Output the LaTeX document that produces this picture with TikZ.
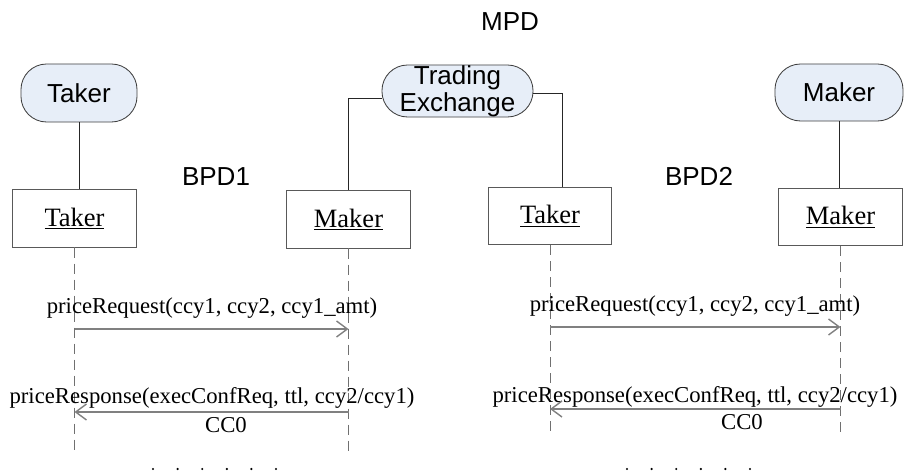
\documentclass[tikz,border=0pt]{standalone}
\usepackage{fontspec}
\setmainfont{Liberation Serif}
\setsansfont{Liberation Sans}
\usepackage{tikz}
\usetikzlibrary{arrows.meta}

\definecolor{pillblue}{RGB}{231,238,248}
\definecolor{linegray}{RGB}{112,112,112}

\begin{document}
\begin{tikzpicture}[x=0.025cm, y=-0.025cm,
    >={Straight Barb[length=0.27cm, width=0.4cm]},
    actor/.style={draw=black!75, fill=pillblue, rounded corners=0.64cm,
        inner sep=0pt, align=center, line width=0.6pt,
        font=\sffamily\fontsize{18.5}{19.2}\selectfont},
    obj/.style={draw=black!65, minimum width=3.075cm, minimum height=1.425cm,
        line width=0.7pt, font=\fontsize{18.85}{22}\selectfont},
    lbl/.style={font=\sffamily\fontsize{18.5}{22}\selectfont},
    msg/.style={anchor=base, font=\fontsize{16.15}{19}\selectfont},
    link/.style={draw=black!85, line width=0.7pt},
    lifeline/.style={draw=linegray, line width=0.7pt,
        dash pattern=on 0.25cm off 0.15cm},
    call/.style={->, draw=gray, line width=1pt}]

    \useasboundingbox (0,0) rectangle (904,472);

    % Titulos
    \node[lbl] (mpd)  at (510,22)  {MPD};
    \node[lbl] (bpd1) at (216,177) {BPD1};
    \node[lbl] (bpd2) at (699,176) {BPD2};

    % Actores
    \node[actor, minimum width=2.9cm, minimum height=1.45cm]
        (takerA) at (79,93) {Taker};
    \node[actor, minimum width=3.775cm, minimum height=1.3cm]
        (exch) at (457.5,91) {Trading\\Exchange};
    \node[actor, minimum width=3.2cm, minimum height=1.425cm]
        (makerA) at (839,92.5) {Maker};

    % Objetos
    \node[obj] (tk1) at (74.5,218.5) {\underline{Taker}};
    \node[obj] (mk1) at (348.5,219.5) {\underline{Maker}};
    \node[obj] (tk2) at (550,216)    {\underline{Taker}};
    \node[obj] (mk2) at (840.5,217)  {\underline{Maker}};

    % Enlaces actor - objeto
    \draw[link] (takerA.south) -- (takerA.south |- tk1.north);
    \draw[link] ([yshift=-0.175cm]exch.west) -| (mk1.north);
    \draw[link] ([yshift=-0.05cm]exch.east) -| ([xshift=0.3cm]tk2.north);
    \draw[link] (makerA.south) -- (makerA.south |- mk2.north);

    % Lineas de vida
    \foreach \n/\e in {tk1/453, mk1/453, tk2/437, mk2/437}{
        \draw[lifeline] (\n.south) -- (\n |- 0,\e);
    }

    % Mensajes BPD1
    \node[msg] (req1) at (212,314) {priceRequest(ccy1, ccy2, ccy1\_amt)};
    \draw[call] (tk1 |- 0,329) -- (mk1 |- 0,329);
    \node[msg] (resp1) at (212,404) {priceResponse(execConfReq, ttl, ccy2/ccy1)};
    \draw[call] (mk1 |- 0,412) -- (tk1 |- 0,412);
    \node[msg] (cc1) at (226,433) {CC0};

    % Mensajes BPD2
    \node[msg] (req2) at (695,312) {priceRequest(ccy1, ccy2, ccy1\_amt)};
    \draw[call] (tk2 |- 0,327) -- (mk2 |- 0,327);
    \node[msg] (resp2) at (695,403) {priceResponse(execConfReq, ttl, ccy2/ccy1)};
    \draw[call] (mk2 |- 0,409) -- (tk2 |- 0,409);
    \node[msg] (cc2) at (742,430) {CC0};

    % Puntos finales
    \foreach \i in {0,...,5}{
        \fill (153+24.6*\i,469) circle (0.03cm);
        \fill (627+24.6*\i,469) circle (0.03cm);
    }
\end{tikzpicture}
\end{document}
